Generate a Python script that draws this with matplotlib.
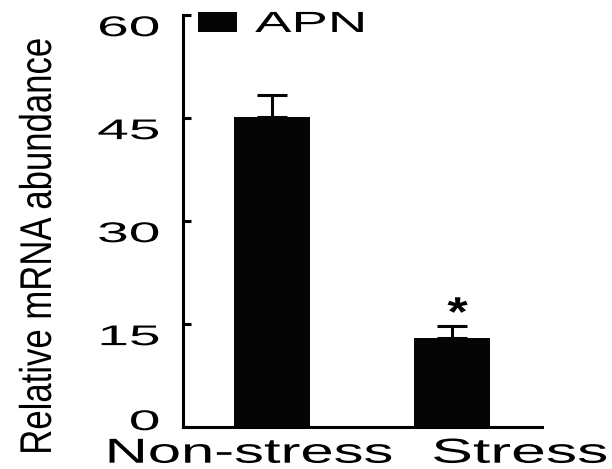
import matplotlib
matplotlib.use("Agg")
import matplotlib.pyplot as plt
from matplotlib.patheffects import AbstractPathEffect
from matplotlib.transforms import Affine2D, ScaledTranslation
from matplotlib.patches import Patch

# ---- data ----
categories = ["Non-stress", "Stress"]
values = [45.2, 13.0]
errors = [3.1, 1.7]
yticks = [0, 15, 30, 45, 60]
legend_label = "APN"
ylabel = "Relative mRNA abundance"
sig_marks = ["", "*"]


class Stretch(AbstractPathEffect):
    """Scale glyph outlines in the text's own frame about an anchor."""
    def __init__(self, sx=1.0, sy=1.0, fx=0.5, fy=0.5):
        super().__init__()
        self.sx, self.sy, self.fx, self.fy = sx, sy, fx, fy

    def draw_path(self, renderer, gc, tpath, affine, rgbFace=None):
        ext = tpath.get_extents()
        ax0 = ext.x0 + self.fx * ext.width
        ay0 = ext.y0 + self.fy * ext.height
        t = Affine2D().translate(-ax0, -ay0).scale(self.sx, self.sy).translate(ax0, ay0)
        renderer.draw_path(gc, tpath, t + affine, rgbFace)


plt.rcParams["font.family"] = ["Liberation Sans", "DejaVu Sans"]

W, H, DPI = 612, 469, 100
fig = plt.figure(figsize=(W / DPI, H / DPI), dpi=DPI)
ax = fig.add_axes([183 / W, (H - 427) / H, (542 - 183) / W, (427 - 15) / H])

x = list(range(len(categories)))
ax.bar(x, values, width=0.42, color="#050505", label=legend_label, zorder=2)
ax.errorbar(x, values, yerr=[[0] * len(errors), errors], fmt="none", ecolor="#050505",
            elinewidth=2.2, capsize=11, capthick=2.2, zorder=1)

for xi, v, e, m in zip(x, values, errors, sig_marks):
    if m:
        ax.annotate(m, (xi, v + e), xytext=(4, 8), textcoords="offset points",
                    ha="center", va="center", fontsize=30, fontweight="bold",
                    path_effects=[Stretch(sx=1.25, fx=0.5)])

ax.set_xlim(-0.494, 1.5)
ax.set_ylim(0, 60)
ax.set_yticks(yticks)
ax.set_yticklabels([str(t) for t in yticks], fontsize=20.5)
ax.set_xticks(x)
ax.set_xticklabels(categories, fontsize=25)

for s in ["top", "right"]:
    ax.spines[s].set_visible(False)
for s in ["left", "bottom"]:
    ax.spines[s].set_linewidth(2.2)
ax.tick_params(axis="y", direction="in", length=6, width=2.2, pad=17)
ax.tick_params(axis="x", length=0, pad=7)

# y tick labels: stretched wide, anchored right, with small vertical offsets
yoff = [5, -8, -8, -8, -8]
for tk, dy in zip(ax.yaxis.get_major_ticks(), yoff):
    lbl = tk.label1
    lbl.set_path_effects([Stretch(sx=2.0, fx=1.0)])
    lbl.set_transform(lbl.get_transform() + ScaledTranslation(0, dy / 72, fig.dpi_scale_trans))

xoff = [-16, 49]
xstretch = [1.72, 1.8]
for tk, dx, sx in zip(ax.xaxis.get_major_ticks(), xoff, xstretch):
    lbl = tk.label1
    lbl.set_path_effects([Stretch(sx=sx, fx=0.5)])
    lbl.set_transform(lbl.get_transform() + ScaledTranslation(dx / 72, 0, fig.dpi_scale_trans))

yl = ax.set_ylabel(ylabel, fontsize=25)
yl.set_va("center")
ax.yaxis.set_label_coords((38 - 183) / (542 - 183), (427 - 246) / (427 - 15))
yl.set_path_effects([Stretch(sx=1.0, sy=1.28, fx=0.5, fy=0.5)])

leg = ax.legend(handles=[Patch(facecolor="#050505", label=legend_label)],
                loc="upper left", bbox_to_anchor=(198 / W, 1 - 10 / H),
                bbox_transform=fig.transFigure, frameon=False, fontsize=21,
                handlelength=1.34, handleheight=0.69, handletextpad=0.62,
                borderpad=0, borderaxespad=0)
for t in leg.get_texts():
    t.set_path_effects([Stretch(sx=1.87, fx=0.0)])

fig.savefig("out.png", dpi=DPI, facecolor="white")
